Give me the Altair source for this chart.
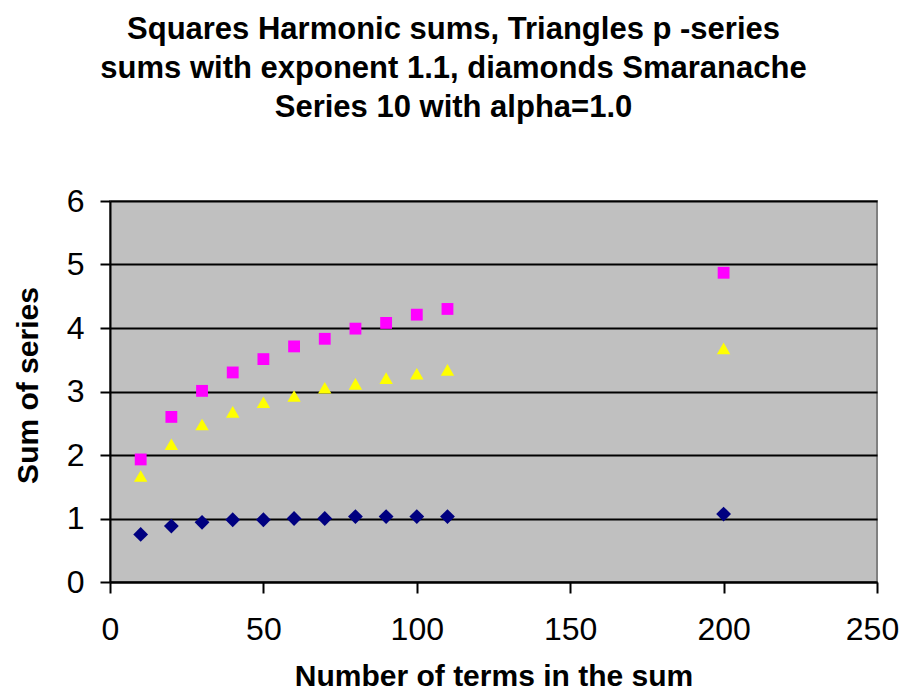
import altair as alt
import pandas as pd

n_terms = [10, 20, 30, 40, 50, 60, 70, 80, 90, 100, 110, 200]
harmonic = [1.93, 2.60, 3.01, 3.30, 3.51, 3.71, 3.83, 3.99, 4.08, 4.21, 4.30, 4.87]
p_series = [1.67, 2.17, 2.48, 2.68, 2.83, 2.93, 3.06, 3.12, 3.21, 3.28, 3.34, 3.68]
smarandache = [0.75, 0.88, 0.94, 0.98, 0.98, 1.00, 1.00, 1.03, 1.03, 1.03, 1.03, 1.07]

series_names = ["Harmonic", "p-series 1.1", "Smarandache"]
series_colors = ["#FF00FF", "#FFFF00", "#000080"]
series_shapes = ["square", "triangle-up", "diamond"]
series_sizes = [140, 220, 175]

rows = []
for name, vals in zip(series_names, [harmonic, p_series, smarandache]):
    for n, v in zip(n_terms, vals):
        rows.append({"n": n, "value": v, "series": name})
df = pd.DataFrame(rows)

FONT = "Liberation Sans"

title_lines = [
    "Squares Harmonic sums, Triangles p -series",
    "sums with exponent 1.1, diamonds Smaranache",
    "Series 10 with alpha=1.0",
]

chart = alt.Chart(df).mark_point(filled=True, opacity=1, strokeWidth=0).encode(
    x=alt.X("n:Q", scale=alt.Scale(domain=[0, 250], nice=False),
            axis=alt.Axis(values=[0, 50, 100, 150, 200, 250], title="Number of terms in the sum",
                          grid=False, tickSize=11, tickColor="black", tickWidth=2,
                          domainColor="black", domainWidth=2,
                          labelFont=FONT, labelFontSize=32, labelColor="black", labelPadding=21,
                          labelFlush=False,
                          labelOffset=alt.condition("datum.value == 250", alt.value(-5), alt.value(0)),
                          titleFont=FONT, titleFontSize=30, titleFontWeight="bold", titleColor="black",
                          titleBaseline="alphabetic", titleY=103)),
    y=alt.Y("value:Q", scale=alt.Scale(domain=[0, 6], nice=False),
            axis=alt.Axis(values=[0, 1, 2, 3, 4, 5, 6], title="Sum of series",
                          grid=True, gridColor="black", gridWidth=2, gridOpacity=1,
                          tickSize=10, tickColor="black", tickWidth=2,
                          domainColor="black", domainWidth=2,
                          labelFont=FONT, labelFontSize=32, labelColor="black", labelPadding=16,
                          labelFlush=False,
                          titleFont=FONT, titleFontSize=30, titleFontWeight="bold", titleColor="black",
                          titleBaseline="alphabetic", titleX=-73, titleY=184, titleAngle=270)),
    color=alt.Color("series:N", scale=alt.Scale(domain=series_names, range=series_colors), legend=None),
    shape=alt.Shape("series:N", scale=alt.Scale(domain=series_names, range=series_shapes), legend=None),
    size=alt.Size("series:N", scale=alt.Scale(domain=series_names, range=series_sizes), legend=None),
).properties(
    width=767,
    height=381,
    title=alt.TitleParams(text=title_lines, font=FONT, fontSize=31, fontWeight="bold", color="black",
                          lineHeight=39, anchor="middle", frame="group", dx=-40, offset=30,
                          baseline="bottom"),
    autosize=alt.AutoSizeParams(type="none"),
    padding={"left": 102, "top": 193, "right": 22, "bottom": 110},
    background="white",
).configure_view(
    fill="#C0C0C0", stroke="#808080", strokeWidth=2
)

chart.save("out.html", embed_options={"renderer": "svg", "actions": False})
